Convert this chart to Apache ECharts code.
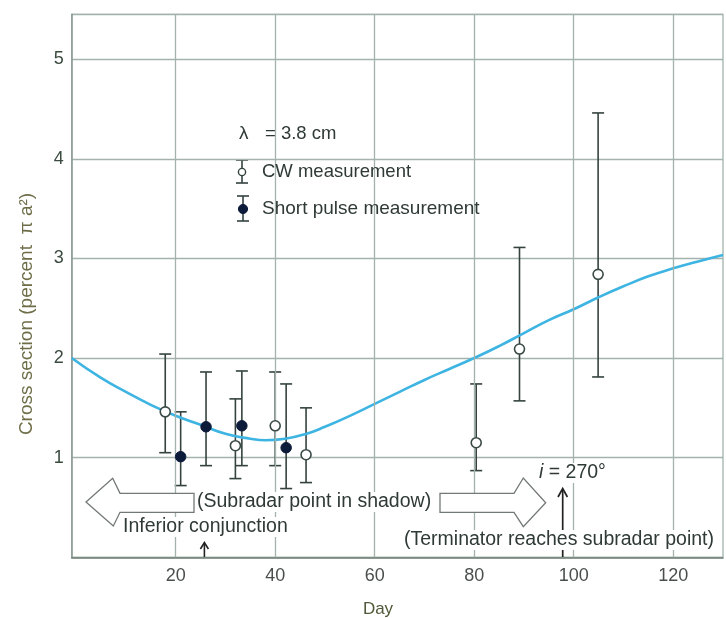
<!DOCTYPE html>
<html><head><meta charset="utf-8">
<script src="https://cdn.jsdelivr.net/npm/echarts@6/dist/echarts.min.js"></script>
<style>html,body{margin:0;padding:0;background:#fff}#c{width:726px;height:618px}</style>
</head><body><div id="c"></div>
<script>
// ---- data ----
const curveDays   = [-0.9, 5, 10, 15, 20, 25, 30, 35, 38, 42, 46, 50, 55, 60, 65, 70, 75, 80, 85, 90, 95, 100, 105, 110, 115, 120, 125, 130];
const curveValues = [2.00, 1.80, 1.66, 1.53, 1.42, 1.33, 1.24, 1.19, 1.175, 1.19, 1.235, 1.31, 1.42, 1.54, 1.66, 1.78, 1.89, 2.00, 2.12, 2.25, 2.38, 2.49, 2.61, 2.72, 2.82, 2.90, 2.97, 3.035];

const cwDays   = [17.9, 32.0, 40.0, 46.2, 80.4, 89.1, 104.9];
const cwValues = [1.46, 1.12, 1.32, 1.03, 1.15, 2.09, 2.84];
const cwLow    = [1.05, 0.79, 0.92, 0.75, 0.87, 1.57, 1.81];
const cwHigh   = [2.04, 1.59, 1.86, 1.50, 1.74, 3.11, 4.46];

const spDays   = [21.0, 26.1, 33.3, 42.2];
const spValues = [1.01, 1.31, 1.32, 1.10];
const spLow    = [0.72, 0.92, 0.92, 0.69];
const spHigh   = [1.46, 1.86, 1.87, 1.74];

const xTickLabels = [20, 40, 60, 80, 100, 120];
const yTickLabels = [1, 2, 3, 4, 5];

// ---- chart ----
const FONT = 'Liberation Sans';
const GRID = '#a3b2ab';
const BAR = '#34433f';
const chart = echarts.init(document.getElementById('c'), null, {renderer: 'canvas'});

function errorBarItem(params, api) {
  const x = api.value(0), lo = api.value(1), hi = api.value(2);
  const pLo = api.coord([x, lo]), pHi = api.coord([x, hi]);
  const hw = 6;
  const style = {stroke: BAR, lineWidth: 1.6};
  return {type: 'group', children: [
    {type: 'line', shape: {x1: pLo[0], y1: pLo[1], x2: pHi[0], y2: pHi[1]}, style: style},
    {type: 'line', shape: {x1: pHi[0] - hw, y1: pHi[1], x2: pHi[0] + hw, y2: pHi[1]}, style: style},
    {type: 'line', shape: {x1: pLo[0] - hw, y1: pLo[1], x2: pLo[0] + hw, y2: pLo[1]}, style: style}
  ]};
}

const textColor = '#2f3a36';
const annFont = {fontFamily: FONT, fontSize: 19.5, fill: textColor};

const option = {
  animation: false,
  backgroundColor: '#fff',
  grid: {left: 71.7, right: 1, top: 14.3, bottom: 60.7, show: true, borderColor: GRID, borderWidth: 1.3},
  xAxis: {
    type: 'value', min: -0.9, max: 130, minInterval: 20, maxInterval: 20,
    axisLine: {show: true, onZero: false, lineStyle: {color: '#6f7d77', width: 1.5}},
    axisTick: {show: false},
    splitLine: {show: false},
    axisLabel: {
      color: '#4a4f4c', fontFamily: FONT, fontSize: 18, margin: 10,
      formatter: v => xTickLabels.indexOf(Math.round(v)) >= 0 && Math.abs(v - Math.round(v)) < 1e-6 ? String(Math.round(v)) : ''
    }
  },
  yAxis: {
    type: 'value', min: 0, max: 5.45, minInterval: 1, maxInterval: 1,
    axisLine: {show: true, onZero: false, lineStyle: {color: '#8a9a93', width: 1.5}},
    axisTick: {show: false},
    splitLine: {show: true, lineStyle: {color: GRID, width: 1.3}},
    axisLabel: {
      color: '#3a4a3e', fontFamily: FONT, fontSize: 18, margin: 8,
      formatter: v => yTickLabels.indexOf(Math.round(v)) >= 0 && Math.abs(v - Math.round(v)) < 1e-6 ? String(Math.round(v)) : ''
    }
  },
  series: [
    {
      // vertical grid lines at the labelled days
      type: 'line', z: 1, silent: true, showSymbol: false,
      data: curveDays.map((d, i) => [d, curveValues[i]]),
      lineStyle: {opacity: 0},
      markLine: {
        silent: true, symbol: ['none', 'none'], label: {show: false},
        lineStyle: {color: GRID, width: 1.3, type: 'solid'},
        data: xTickLabels.map(v => ({xAxis: v}))
      }
    },
    {
      type: 'line', smooth: true, showSymbol: false, z: 3,
      data: curveDays.map((d, i) => [d, curveValues[i]]),
      lineStyle: {color: '#3db4e2', width: 2.6}
    },
    {
      type: 'custom', z: 2, renderItem: errorBarItem,
      encode: {x: 0, y: [1, 2]},
      data: cwDays.map((d, i) => [d, cwLow[i], cwHigh[i]])
    },
    {
      type: 'custom', z: 2, renderItem: errorBarItem,
      encode: {x: 0, y: [1, 2]},
      data: spDays.map((d, i) => [d, spLow[i], spHigh[i]])
    },
    {
      type: 'scatter', z: 5, symbol: 'circle', symbolSize: 10,
      data: cwDays.map((d, i) => [d, cwValues[i]]),
      itemStyle: {color: '#ffffff', borderColor: '#3a4a46', borderWidth: 1.6, opacity: 1}
    },
    {
      type: 'scatter', z: 5, symbol: 'circle', symbolSize: 10.5,
      data: spDays.map((d, i) => [d, spValues[i]]),
      itemStyle: {color: '#0d1b3a', borderColor: '#0d1b3a', borderWidth: 1, opacity: 1}
    }
  ],
  graphic: [
    // y axis name
    {type: 'text', x: 27, y: 314, rotation: Math.PI / 2, z: 100,
     style: {text: 'Cross section (percent  \u03c0 a\u00b2)', fontFamily: FONT, fontSize: 19, fill: '#6e6d48', align: 'center', verticalAlign: 'middle'}},
    // x axis name
    {type: 'text', x: 378, y: 609, z: 100,
     style: {text: 'Day', fontFamily: FONT, fontSize: 17, fill: '#4f5838', align: 'center', verticalAlign: 'middle'}},
    // lambda
    {type: 'text', x: 239, y: 134, z: 100,
     style: {text: '\u03bb', fontFamily: FONT, fontSize: 19, fill: textColor, align: 'left', verticalAlign: 'middle'}},
    {type: 'text', x: 265, y: 134, z: 100,
     style: {text: '= 3.8 cm', fontFamily: FONT, fontSize: 18.5, fill: textColor, align: 'left', verticalAlign: 'middle'}},
    // legend: CW
    {type: 'group', z: 100, children: [
      {type: 'line', shape: {x1: 242, y1: 160, x2: 242, y2: 183}, style: {stroke: BAR, lineWidth: 1.6}},
      {type: 'line', shape: {x1: 236, y1: 160, x2: 248, y2: 160}, style: {stroke: BAR, lineWidth: 1.6}},
      {type: 'line', shape: {x1: 236, y1: 183, x2: 248, y2: 183}, style: {stroke: BAR, lineWidth: 1.6}},
      {type: 'circle', shape: {cx: 242, cy: 172, r: 3.6}, style: {fill: '#fff', stroke: BAR, lineWidth: 1.4}}
    ]},
    {type: 'text', x: 262, y: 172, z: 100,
     style: {text: 'CW measurement', fontFamily: FONT, fontSize: 18.5, fill: textColor, align: 'left', verticalAlign: 'middle'}},
    // legend: short pulse
    {type: 'group', z: 100, children: [
      {type: 'line', shape: {x1: 243, y1: 196, x2: 243, y2: 221}, style: {stroke: BAR, lineWidth: 1.6}},
      {type: 'line', shape: {x1: 237, y1: 196, x2: 249, y2: 196}, style: {stroke: BAR, lineWidth: 1.6}},
      {type: 'line', shape: {x1: 237, y1: 221, x2: 249, y2: 221}, style: {stroke: BAR, lineWidth: 1.6}},
      {type: 'circle', shape: {cx: 243, cy: 209, r: 4.6}, style: {fill: '#0d1b3a', stroke: '#0d1b3a', lineWidth: 1}}
    ]},
    {type: 'text', x: 262, y: 209, z: 100,
     style: {text: 'Short pulse measurement', fontFamily: FONT, fontSize: 19, fill: textColor, align: 'left', verticalAlign: 'middle'}},
    // left hollow arrow
    {type: 'polygon', z: 100,
     shape: {points: [[86, 502], [112.7, 478.3], [120, 493.3], [194, 493.3], [194, 512.3], [120, 512.3], [113.3, 526]]},
     style: {fill: '#fff', stroke: '#727875', lineWidth: 1.3}},
    // right hollow arrow
    {type: 'polygon', z: 100,
     shape: {points: [[440, 493.3], [514, 493.3], [523.3, 478], [545.7, 502.7], [523.3, 526.7], [514, 512.3], [440, 512.3]]},
     style: {fill: '#fff', stroke: '#727875', lineWidth: 1.3}},
    // texts
    {type: 'text', x: 197, y: 502, z: 101,
     style: Object.assign({text: '(Subradar point in shadow)', align: 'left', verticalAlign: 'middle', backgroundColor: '#fff'}, annFont)},
    {type: 'text', x: 123, y: 527, z: 101,
     style: Object.assign({text: 'Inferior conjunction', align: 'left', verticalAlign: 'middle', backgroundColor: '#fff'}, annFont)},
    // inferior conjunction arrow
    {type: 'line', z: 100, shape: {x1: 204.4, y1: 557, x2: 204.4, y2: 543}, style: {stroke: '#222', lineWidth: 1.6}},
    {type: 'polyline', z: 100, shape: {points: [[200.4, 549], [204.4, 542.5], [208.4, 549]]}, style: {stroke: '#222', lineWidth: 1.6, fill: null}},
    // terminator arrow
    {type: 'line', z: 100, shape: {x1: 562.7, y1: 557, x2: 562.7, y2: 489}, style: {stroke: '#222', lineWidth: 1.7}},
    {type: 'polyline', z: 100, shape: {points: [[558, 497], [562.7, 488.5], [567.4, 497]]}, style: {stroke: '#222', lineWidth: 1.7, fill: null}},
    {type: 'text', x: 539, y: 473, z: 101,
     style: {text: '{it|i} = 270\u00b0', align: 'left', verticalAlign: 'middle', backgroundColor: '#fff',
             fontFamily: FONT, fontSize: 19.5, fill: textColor,
             rich: {it: {fontFamily: FONT, fontSize: 19.5, fontStyle: 'italic', fill: textColor}}}},
    {type: 'text', x: 404, y: 540, z: 101,
     style: Object.assign({text: '(Terminator reaches subradar point)', align: 'left', verticalAlign: 'middle', backgroundColor: '#fff'}, annFont)}
  ]
};
chart.setOption(option);
</script>
</body></html>
